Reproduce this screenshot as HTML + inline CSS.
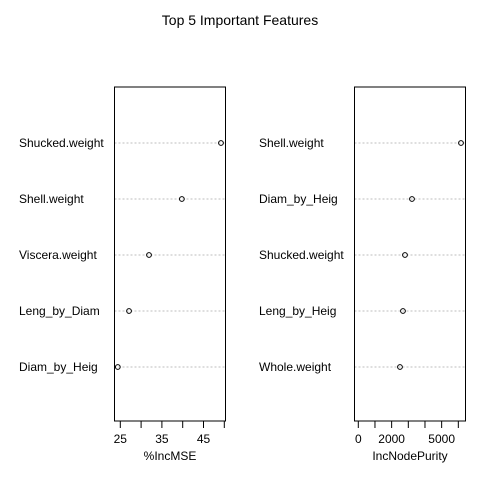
<!DOCTYPE html>
<html><head><meta charset="utf-8"><style>body{margin:0;background:#fff}svg{display:block}text{font-family:"Liberation Sans",Arial,sans-serif;fill:#000}</style></head>
<body>
<svg id="c" width="480" height="480" xmlns="http://www.w3.org/2000/svg">
<text x="240" y="25" font-size="14" text-anchor="middle">Top 5 Important Features</text>
</svg>
<script>
const leftLabels = ["Shucked.weight","Shell.weight","Viscera.weight","Leng_by_Diam","Diam_by_Heig"];
const leftValues = [49.2, 39.8, 31.9, 27.1, 24.4];
const leftTicks = [25,30,35,40,45,50];
const leftTickLabels = ["25","","35","","45",""];
const rightLabels = ["Shell.weight","Diam_by_Heig","Shucked.weight","Leng_by_Heig","Whole.weight"];
const rightValues = [6160, 3220, 2800, 2680, 2500];
const rightTicks = [0,1000,2000,3000,4000,5000,6000];
const rightTickLabels = ["0","","2000","","","5000",""];

const svg = document.getElementById('c');
const NS = 'http://www.w3.org/2000/svg';
function mk(tag, attrs, parent){const e=document.createElementNS(NS,tag);for(const k in attrs)e.setAttribute(k,attrs[k]);(parent||svg).appendChild(e);return e;}
const boxTop=87, boxBot=421, rowY0=143, rowStep=56;
let bx0,bx1;
function panel(name, labels, values, ticks, tlabels, x0, v0, pxPer, labelX, axisTitle, titleX){
  const g=mk('g',{});
  
  
  const sx=v=>x0+(v-v0)*pxPer;
  labels.forEach((lab,i)=>{
    const y=rowY0+i*rowStep;
    const ln=mk('line',{x1:bx0,x2:bx1,y1:y,y2:y,stroke:'#bebebe','stroke-dasharray':'2,2'},g);
    
    
    const t=mk('text',{x:labelX,y:y+4,'font-size':'12'},g); t.textContent=lab;
    
    
    const c=mk('circle',{cx:sx(values[i]),cy:y,r:2.4,fill:'none',stroke:'#000','stroke-width':1},g);
    
    
  });
  const box=mk('rect',{x:bx0,y:boxTop,width:bx1-bx0,height:boxBot-boxTop,fill:'none',stroke:'#000'},g);
  
  
  ticks.forEach((t,i)=>{
    const x=sx(t);
    const tk=mk('line',{x1:x,x2:x,y1:boxBot,y2:boxBot+7,stroke:'#000'},g);
    
    
    if(tlabels[i]){const tt=mk('text',{x:x,y:boxBot+22,'font-size':'12','text-anchor':'middle'},g);tt.textContent=tlabels[i];
      
      }
  });
  const at=mk('text',{x:titleX,y:boxBot+39,'font-size':'12','text-anchor':'middle'},g); at.textContent=axisTitle;
  
  
}
bx0=114.5;bx1=225.5;
panel('incmse', leftLabels, leftValues, leftTicks, leftTickLabels, 120.3, 25, 20.8/5, 19, '%IncMSE', 170);
bx0=354.5;bx1=465.5;
panel('incnodepurity', rightLabels, rightValues, rightTicks, rightTickLabels, 358.3, 0, 16.67/1000, 259, 'IncNodePurity', 410);
</script>
</body></html>
